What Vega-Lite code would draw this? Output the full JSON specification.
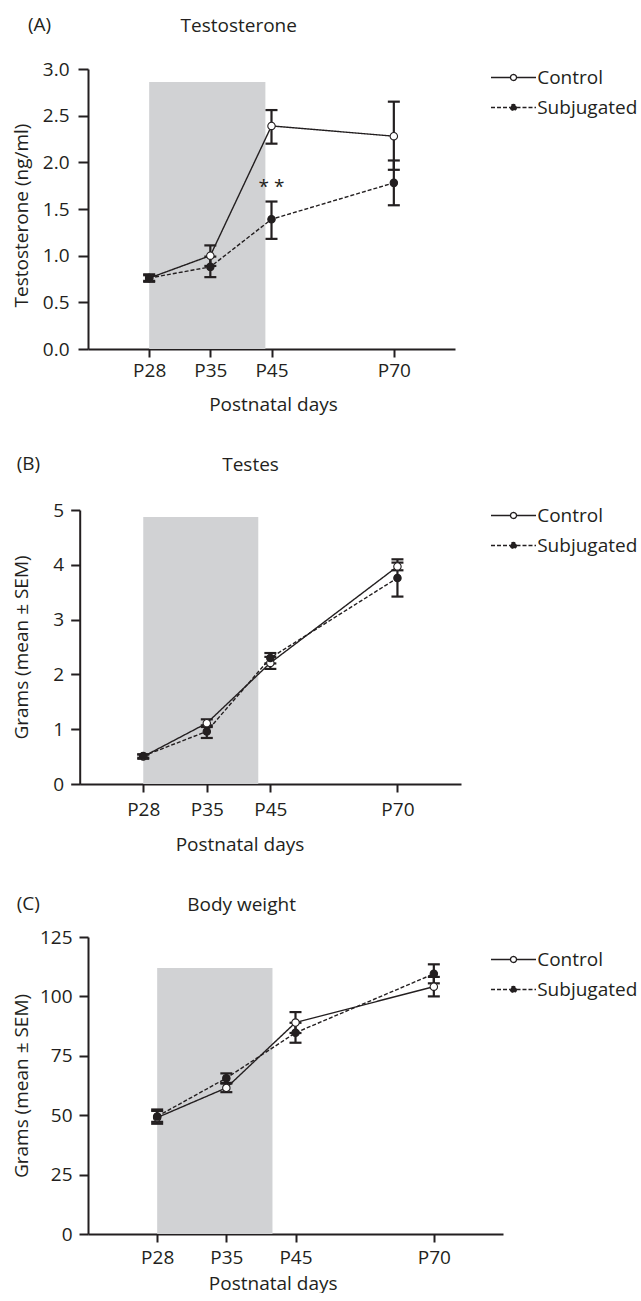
{
  "$schema": "https://vega.github.io/schema/vega-lite/v6.json",
  "background": "white",
  "padding": {"left": 12, "top": 16, "right": 0, "bottom": 0},
  "columns": 1,
  "align": "none",
  "spacing": 41,
  "config": {
    "font": "Open Sans",
    "view": {"stroke": null},
    "axis": {"domainColor": "#231f20", "domainWidth": 2, "tickColor": "#231f20", "tickWidth": 2, "labelColor": "#231f20", "labelFont": "Open Sans", "labelFontSize": 19, "titleColor": "#231f20", "titleFont": "Open Sans", "titleFontSize": 19, "titleFontWeight": "normal", "grid": false},
    "title": {"font": "Open Sans", "fontSize": 19, "fontWeight": "normal", "color": "#231f20"},
    "legend": {"padding": 0, "labelFont": "Open Sans", "labelFontSize": 19, "labelColor": "#231f20", "symbolSize": 100, "symbolStrokeColor": "#231f20", "symbolStrokeWidth": 1.3, "labelOffset": 14.2, "rowPadding": 10, "labelLimit": 300}
  },
  "datasets": {
    "testo": [
      {"pos": 1, "day": "P28", "group": "Control", "mean": 0.76, "lo": 0.72, "hi": 0.80},
      {"pos": 2, "day": "P35", "group": "Control", "mean": 1.00, "lo": 0.89, "hi": 1.11},
      {"pos": 3, "day": "P45", "group": "Control", "mean": 2.39, "lo": 2.20, "hi": 2.56},
      {"pos": 5, "day": "P70", "group": "Control", "mean": 2.28, "lo": 1.92, "hi": 2.65},
      {"pos": 1, "day": "P28", "group": "Subjugated", "mean": 0.76, "lo": 0.73, "hi": 0.79},
      {"pos": 2, "day": "P35", "group": "Subjugated", "mean": 0.88, "lo": 0.77, "hi": 0.99},
      {"pos": 3, "day": "P45", "group": "Subjugated", "mean": 1.39, "lo": 1.18, "hi": 1.58},
      {"pos": 5, "day": "P70", "group": "Subjugated", "mean": 1.78, "lo": 1.54, "hi": 2.02}
    ],
    "testes": [
      {"pos": 1, "day": "P28", "group": "Control", "mean": 0.50, "lo": 0.46, "hi": 0.54},
      {"pos": 2, "day": "P35", "group": "Control", "mean": 1.11, "lo": 1.04, "hi": 1.18},
      {"pos": 3, "day": "P45", "group": "Control", "mean": 2.21, "lo": 2.10, "hi": 2.32},
      {"pos": 5, "day": "P70", "group": "Control", "mean": 3.97, "lo": 3.90, "hi": 4.04},
      {"pos": 1, "day": "P28", "group": "Subjugated", "mean": 0.51, "lo": 0.48, "hi": 0.54},
      {"pos": 2, "day": "P35", "group": "Subjugated", "mean": 0.96, "lo": 0.84, "hi": 1.07},
      {"pos": 3, "day": "P45", "group": "Subjugated", "mean": 2.30, "lo": 2.20, "hi": 2.39},
      {"pos": 5, "day": "P70", "group": "Subjugated", "mean": 3.76, "lo": 3.42, "hi": 4.10}
    ],
    "bw": [
      {"pos": 1, "day": "P28", "group": "Control", "mean": 49.0, "lo": 46.4, "hi": 52.4},
      {"pos": 2, "day": "P35", "group": "Control", "mean": 61.5, "lo": 59.7, "hi": 63.3},
      {"pos": 3, "day": "P45", "group": "Control", "mean": 89.0, "lo": 84.6, "hi": 93.4},
      {"pos": 5, "day": "P70", "group": "Control", "mean": 104.1, "lo": 100.0, "hi": 108.2},
      {"pos": 1, "day": "P28", "group": "Subjugated", "mean": 49.5, "lo": 47.2, "hi": 51.8},
      {"pos": 2, "day": "P35", "group": "Subjugated", "mean": 65.6, "lo": 63.6, "hi": 67.6},
      {"pos": 3, "day": "P45", "group": "Subjugated", "mean": 84.7, "lo": 80.5, "hi": 88.9},
      {"pos": 5, "day": "P70", "group": "Subjugated", "mean": 109.5, "lo": 105.5, "hi": 113.5}
    ]
  },
  "resolve": {"scale": {"fill": "independent", "strokeDash": "independent"}, "legend": {"fill": "independent", "strokeDash": "independent"}},
  "concat": [
    {
      "width": 367, "height": 280,
      "title": {"text": "(A)", "anchor": "start", "frame": "group", "dx": -60, "dy": 19, "offset": 0, "baseline": "top"},
      "data": {"name": "testo"},
      "resolve": {"axis": {"x": "independent"}},
      "layer": [
        {
          "data": {"values": [{"start": 1, "end": 2.9, "base": 0, "top": 2.86}]},
          "mark": {"type": "rect", "color": "#d1d2d4"},
          "encoding": {
            "x": {"field": "start", "type": "quantitative", "scale": {"domain": [0, 6], "nice": false}, "axis": {"orient": "top", "title": "Testosterone", "titleX": 92, "titleY": -53, "titleAlign": "left", "titleBaseline": "top", "titleAngle": 0, "labels": false, "ticks": false, "domain": false}},
            "x2": {"field": "end"},
            "y": {"field": "base", "type": "quantitative", "scale": {"domain": [0, 3], "nice": false}, "axis": {"title": "Testosterone (ng/ml)", "values": [0, 0.5, 1, 1.5, 2, 2.5, 3], "format": ".1f", "tickSize": 10, "labelPadding": 9, "titleX": -61, "titleY": 146, "titleBaseline": "alphabetic"}},
            "y2": {"field": "top"}
          }
        },
        {
          "mark": {"type": "rule", "color": "#231f20", "strokeWidth": 2.2},
          "encoding": {
            "x": {"field": "pos", "type": "quantitative", "axis": null},
            "y": {"field": "lo", "type": "quantitative"},
            "y2": {"field": "hi"}
          }
        },
        {
          "mark": {"type": "tick", "orient": "horizontal", "color": "#231f20", "size": 12, "thickness": 2.2, "opacity": 1},
          "encoding": {
            "x": {"field": "pos", "type": "quantitative", "axis": null},
            "y": {"field": "lo", "type": "quantitative"}
          }
        },
        {
          "mark": {"type": "tick", "orient": "horizontal", "color": "#231f20", "size": 12, "thickness": 2.2, "opacity": 1},
          "encoding": {
            "x": {"field": "pos", "type": "quantitative", "axis": null},
            "y": {"field": "hi", "type": "quantitative"}
          }
        },
        {
          "mark": {"type": "line", "color": "#231f20", "strokeWidth": 1.4},
          "encoding": {
            "x": {"field": "pos", "type": "quantitative", "axis": {"values": [1, 2, 3, 5], "labelExpr": "datum.value == 1 ? 'P28' : datum.value == 2 ? 'P35' : datum.value == 3 ? 'P45' : 'P70'", "title": "Postnatal days", "tickSize": 8, "labelPadding": 4, "titleX": 185, "titleY": 61, "titleAlign": "center", "titleBaseline": "alphabetic"}},
            "y": {"field": "mean", "type": "quantitative"},
            "strokeDash": {"field": "group", "type": "nominal", "scale": {"domain": ["Control", "Subjugated"], "range": [[1, 0], [4, 2]]}, "legend": {"title": null, "orient": "none", "legendX": 416, "legendY": -1, "symbolType": "M-4.5,0H-0.6M0.6,0H4.5M-0.6,0A0.6,0.6,0,1,0,0.6,0A0.6,0.6,0,1,0,-0.6,0Z"}}
          }
        },
        {
          "mark": {"type": "point", "shape": "circle", "filled": true, "size": 55, "stroke": "#231f20", "strokeWidth": 1.1, "opacity": 1},
          "encoding": {
            "x": {"field": "pos", "type": "quantitative", "axis": null},
            "y": {"field": "mean", "type": "quantitative"},
            "fill": {"field": "group", "type": "nominal", "scale": {"domain": ["Control", "Subjugated"], "range": ["#ffffff", "#231f20"]}, "legend": {"title": null, "orient": "none", "legendX": 416, "legendY": -1, "symbolType": "M-4.5,0H-0.6M0.6,0H4.5M-0.6,0A0.6,0.6,0,1,0,0.6,0A0.6,0.6,0,1,0,-0.6,0Z"}}
          }
        },
        {
          "data": {"values": [{"pos": 3, "v": 1.67, "label": "* *"}]},
          "mark": {"type": "text", "fontSize": 19, "baseline": "alphabetic", "color": "#231f20"},
          "encoding": {
            "x": {"field": "pos", "type": "quantitative", "axis": null},
            "y": {"field": "v", "type": "quantitative"},
            "text": {"field": "label"}
          }
        }
      ]
    },
    {
      "width": 373, "height": 274,
      "title": {"text": "(B)", "anchor": "start", "frame": "group", "dx": -71.3, "dy": 19, "offset": 0, "baseline": "top"},
      "data": {"name": "testes"},
      "resolve": {"axis": {"x": "independent"}},
      "layer": [
        {
          "data": {"values": [{"start": 1, "end": 2.81, "base": 0, "top": 4.87}]},
          "mark": {"type": "rect", "color": "#d1d2d4"},
          "encoding": {
            "x": {"field": "start", "type": "quantitative", "scale": {"domain": [0, 6], "nice": false, "range": [-8.3, 373]}, "axis": {"orient": "top", "title": "Testes", "titleX": 133.7, "titleY": -55, "titleAlign": "left", "titleBaseline": "top", "titleAngle": 0, "labels": false, "ticks": false, "domain": false}},
            "x2": {"field": "end"},
            "y": {"field": "base", "type": "quantitative", "scale": {"domain": [0, 5], "nice": false}, "axis": {"title": "Grams (mean ± SEM)", "values": [0, 1, 2, 3, 4, 5], "format": "d", "offset": 8.3, "tickSize": 9, "labelPadding": 7, "titleX": -52.5, "titleBaseline": "alphabetic"}},
            "y2": {"field": "top"}
          }
        },
        {
          "mark": {"type": "rule", "color": "#231f20", "strokeWidth": 2.2},
          "encoding": {
            "x": {"field": "pos", "type": "quantitative", "axis": null},
            "y": {"field": "lo", "type": "quantitative"},
            "y2": {"field": "hi"}
          }
        },
        {
          "mark": {"type": "tick", "orient": "horizontal", "color": "#231f20", "size": 12, "thickness": 2.2, "opacity": 1},
          "encoding": {
            "x": {"field": "pos", "type": "quantitative", "axis": null},
            "y": {"field": "lo", "type": "quantitative"}
          }
        },
        {
          "mark": {"type": "tick", "orient": "horizontal", "color": "#231f20", "size": 12, "thickness": 2.2, "opacity": 1},
          "encoding": {
            "x": {"field": "pos", "type": "quantitative", "axis": null},
            "y": {"field": "hi", "type": "quantitative"}
          }
        },
        {
          "mark": {"type": "line", "color": "#231f20", "strokeWidth": 1.4},
          "encoding": {
            "x": {"field": "pos", "type": "quantitative", "axis": {"values": [1, 2, 3, 5], "labelExpr": "datum.value == 1 ? 'P28' : datum.value == 2 ? 'P35' : datum.value == 3 ? 'P45' : 'P70'", "title": "Postnatal days", "tickSize": 8, "labelPadding": 8, "titleX": 151.5, "titleY": 66, "titleAlign": "center", "titleBaseline": "alphabetic"}},
            "y": {"field": "mean", "type": "quantitative"},
            "strokeDash": {"field": "group", "type": "nominal", "scale": {"domain": ["Control", "Subjugated"], "range": [[1, 0], [4, 2]]}, "legend": {"title": null, "orient": "none", "legendX": 416, "legendY": -4, "symbolType": "M-4.5,0H-0.6M0.6,0H4.5M-0.6,0A0.6,0.6,0,1,0,0.6,0A0.6,0.6,0,1,0,-0.6,0Z"}}
          }
        },
        {
          "mark": {"type": "point", "shape": "circle", "filled": true, "size": 55, "stroke": "#231f20", "strokeWidth": 1.1, "opacity": 1},
          "encoding": {
            "x": {"field": "pos", "type": "quantitative", "axis": null},
            "y": {"field": "mean", "type": "quantitative"},
            "fill": {"field": "group", "type": "nominal", "scale": {"domain": ["Control", "Subjugated"], "range": ["#ffffff", "#231f20"]}, "legend": {"title": null, "orient": "none", "legendX": 416, "legendY": -4, "symbolType": "M-4.5,0H-0.6M0.6,0H4.5M-0.6,0A0.6,0.6,0,1,0,0.6,0A0.6,0.6,0,1,0,-0.6,0Z"}}
          }
        }
      ]
    },
    {
      "width": 415, "height": 297,
      "title": {"text": "(C)", "anchor": "start", "frame": "group", "dx": -71.3, "dy": 19, "offset": 0, "baseline": "top"},
      "data": {"name": "bw"},
      "resolve": {"axis": {"x": "independent"}},
      "layer": [
        {
          "data": {"values": [{"start": 1, "end": 2.667, "base": 0, "top": 112}]},
          "mark": {"type": "rect", "color": "#d1d2d4"},
          "encoding": {
            "x": {"field": "start", "type": "quantitative", "scale": {"domain": [0, 6], "nice": false}, "axis": {"orient": "top", "title": "Body weight", "titleX": 98.7, "titleY": -42, "titleAlign": "left", "titleBaseline": "top", "titleAngle": 0, "labels": false, "ticks": false, "domain": false}},
            "x2": {"field": "end"},
            "y": {"field": "base", "type": "quantitative", "scale": {"domain": [0, 125], "nice": false}, "axis": {"title": "Grams (mean ± SEM)", "values": [0, 25, 50, 75, 100, 125], "format": "d", "tickSize": 9, "labelPadding": 7, "titleX": -61, "titleBaseline": "alphabetic"}},
            "y2": {"field": "top"}
          }
        },
        {
          "mark": {"type": "rule", "color": "#231f20", "strokeWidth": 2.2},
          "encoding": {
            "x": {"field": "pos", "type": "quantitative", "axis": null},
            "y": {"field": "lo", "type": "quantitative"},
            "y2": {"field": "hi"}
          }
        },
        {
          "mark": {"type": "tick", "orient": "horizontal", "color": "#231f20", "size": 12, "thickness": 2.2, "opacity": 1},
          "encoding": {
            "x": {"field": "pos", "type": "quantitative", "axis": null},
            "y": {"field": "lo", "type": "quantitative"}
          }
        },
        {
          "mark": {"type": "tick", "orient": "horizontal", "color": "#231f20", "size": 12, "thickness": 2.2, "opacity": 1},
          "encoding": {
            "x": {"field": "pos", "type": "quantitative", "axis": null},
            "y": {"field": "hi", "type": "quantitative"}
          }
        },
        {
          "mark": {"type": "line", "color": "#231f20", "strokeWidth": 1.4},
          "encoding": {
            "x": {"field": "pos", "type": "quantitative", "axis": {"values": [1, 2, 3, 5], "labelExpr": "datum.value == 1 ? 'P28' : datum.value == 2 ? 'P35' : datum.value == 3 ? 'P45' : 'P70'", "title": "Postnatal days", "tickSize": 8, "labelPadding": 6.4, "titleX": 184.7, "titleY": 55, "titleAlign": "center", "titleBaseline": "alphabetic"}},
            "y": {"field": "mean", "type": "quantitative"},
            "strokeDash": {"field": "group", "type": "nominal", "scale": {"domain": ["Control", "Subjugated"], "range": [[1, 0], [4, 2]]}, "legend": {"title": null, "orient": "none", "legendX": 416, "legendY": 13, "symbolType": "M-4.5,0H-0.6M0.6,0H4.5M-0.6,0A0.6,0.6,0,1,0,0.6,0A0.6,0.6,0,1,0,-0.6,0Z"}}
          }
        },
        {
          "mark": {"type": "point", "shape": "circle", "filled": true, "size": 55, "stroke": "#231f20", "strokeWidth": 1.1, "opacity": 1},
          "encoding": {
            "x": {"field": "pos", "type": "quantitative", "axis": null},
            "y": {"field": "mean", "type": "quantitative"},
            "fill": {"field": "group", "type": "nominal", "scale": {"domain": ["Control", "Subjugated"], "range": ["#ffffff", "#231f20"]}, "legend": {"title": null, "orient": "none", "legendX": 416, "legendY": 13, "symbolType": "M-4.5,0H-0.6M0.6,0H4.5M-0.6,0A0.6,0.6,0,1,0,0.6,0A0.6,0.6,0,1,0,-0.6,0Z"}}
          }
        }
      ]
    }
  ]
}
